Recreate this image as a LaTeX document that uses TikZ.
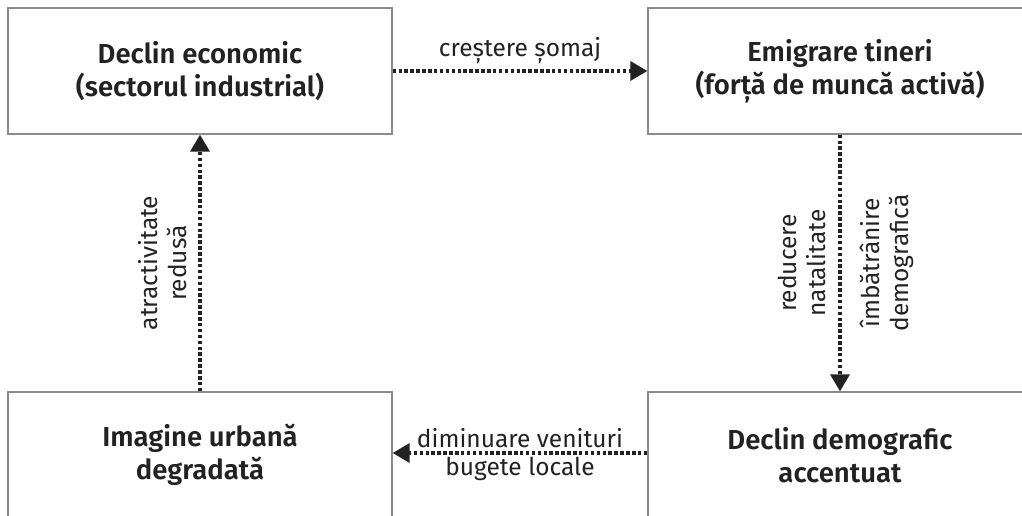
\documentclass[tikz,border=0pt]{standalone}
\usepackage{fontspec}
\setmainfont{Fira Sans}[BoldFont={* SemiBold}]
\usetikzlibrary{arrows.meta}
\definecolor{ink}{HTML}{222222}
\definecolor{frame}{HTML}{8C8C8C}
\begin{document}
\begin{tikzpicture}[x=1pt,y=-1pt,
  box/.style={draw=frame,line width=1.3pt,minimum width=384pt,minimum height=126pt,
    inner sep=0pt,align=center,text=ink,font=\bfseries\fontsize{27.5}{33}\selectfont},
  flow/.style={draw=ink,line width=3.5pt,dash pattern=on 3.5pt off 2.4pt,
    -{Triangle[width=19pt,length=17pt]}},
  lbl/.style={text=ink,align=center,font=\fontsize{24.5}{29}\selectfont,inner sep=2pt}]
\useasboundingbox (0,0) rectangle (1022,516);
\clip (0,0) rectangle (1022,516);
% four stages of the cycle
\node[box] (econ) at (200,71) {Declin economic\\(sectorul industrial)};
\node[box] (emig) at (840,71) {Emigrare tineri\\(forță de muncă activă)};
\node[box] (demo) at (840,455) {Declin demografic\\accentuat};
\node[box] (img)  at (200,455) {Imagine urbană\\degradată};
% causal links
\draw[flow] (econ) -- node[lbl,above=3pt] (l1) {creștere șomaj} (emig);
\draw[flow] (emig) --
  node[lbl,rotate=90,anchor=south,inner sep=12pt] (l2) {reducere\\natalitate}
  node[lbl,rotate=90,anchor=north,inner sep=18pt] (l3) {îmbătrânire\\demografică} (demo);
\draw[flow] ([yshift=2pt]demo.west) --
  node[lbl,above,inner sep=3pt] (l4) {diminuare venituri}
  node[lbl,below,inner sep=2pt] (l5) {bugete locale} ([yshift=2pt]img.east);
\draw[flow] (img) --
  node[lbl,rotate=90,anchor=south,inner sep=11pt] (l6) {atractivitate\\redusă} (econ);
\end{tikzpicture}
\end{document}
